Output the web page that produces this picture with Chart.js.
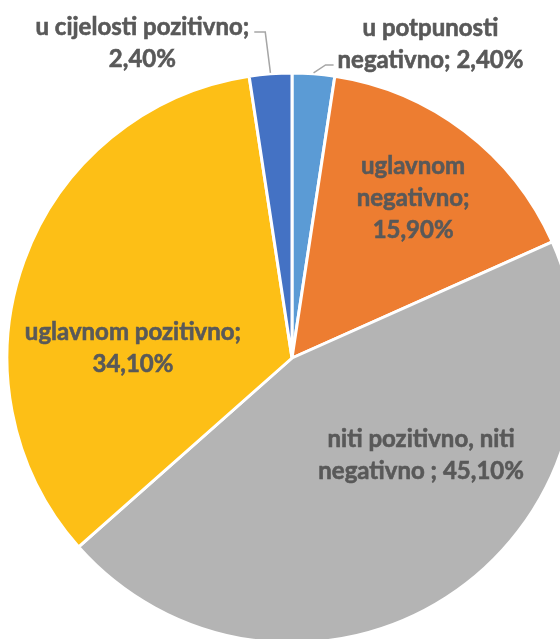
<!DOCTYPE html>
<html lang="hr">
<head>
    <meta charset="UTF-8">
    <title>Stav ispitanika</title>
    <script src="https://cdn.jsdelivr.net/npm/chart.js@4/dist/chart.umd.min.js"></script>
    <style>
        html, body {margin:0;padding:0;background:#fff;overflow:hidden;width:560px;height:639px;}
        #wrap {position:absolute;left:0;top:0;width:584px;height:716px;}
    </style>
</head>
<body>
<div id="wrap"><canvas id="pieChart"></canvas></div>
<script>
    const categories = ['u potpunosti negativno', 'uglavnom negativno', 'niti pozitivno, niti negativno ', 'uglavnom pozitivno', 'u cijelosti pozitivno'];
    const values = [2.4, 15.9, 45.1, 34.1, 2.4];
    const colors = ['#5B9BD5', '#ED7D31', '#B4B4B4', '#FDBF16', '#4472C4'];

    // label placement, in units of the radius from the centre, and wrap widths
    const labelPos = [[0.486, -1.102], [0.425, -0.561], [0.453, 0.34], [-0.558, -0.035], [-0.525, -1.105]];
    const wrapWidth = [200, 135, 225, 235, 240];
    const leader = [true, false, false, false, true];

    const fmt = (v) => v.toFixed(2).replace('.', ',') + '%';

    function wrap(ctx, text, max) {
        let words = text.split(/\s+/).filter(w => w.length);
        let lines = [], cur = '';
        words.forEach((w) => {
            let test = cur ? cur + ' ' + w : w;
            if (cur && ctx.measureText(test).width > max) {
                lines.push(cur);
                cur = w;
            } else {
                cur = test;
            }
        });
        if (cur) lines.push(cur);
        return lines;
    }

    const labelPlugin = {
        id: 'pieLabels',
        afterDatasetsDraw(chart) {
            const ctx = chart.ctx;
            const meta = chart.getDatasetMeta(0);
            const lh = 32;
            ctx.save();
            ctx.font = 'bold 24px Lato';
            ctx.fillStyle = '#595959';
            ctx.textAlign = 'center';
            ctx.textBaseline = 'middle';
            meta.data.forEach((arc, i) => {
                const r = arc.outerRadius;
                const cx = arc.x + labelPos[i][0] * r;
                const cy = arc.y + labelPos[i][1] * r;
                const lines = wrap(ctx, categories[i] + '; ' + fmt(values[i]), wrapWidth[i]);
                const y0 = cy - (lines.length - 1) * lh / 2;
                ctx.strokeStyle = '#595959';
                ctx.lineWidth = 0.6;
                lines.forEach((l, k) => {
                    ctx.fillText(l, cx, y0 + k * lh);
                    ctx.strokeText(l, cx, y0 + k * lh);
                });

                if (leader[i]) {
                    const mid = (arc.startAngle + arc.endAngle) / 2;
                    const ex = arc.x + Math.cos(mid) * (r + 1);
                    const ey = arc.y + Math.sin(mid) * (r + 1);
                    let sx, sy, bx;
                    if (ex < arc.x) {
                        sx = cx + ctx.measureText(lines[0]).width / 2 + 5;
                        sy = y0 + 5;
                        bx = sx + 11;
                    } else {
                        const k = lines.length - 1;
                        sx = cx - ctx.measureText(lines[k]).width / 2 - 4;
                        sy = y0 + k * lh + 5;
                        bx = sx - 8;
                    }
                    ctx.strokeStyle = '#A6A6A6';
                    ctx.lineWidth = 1.5;
                    ctx.beginPath();
                    ctx.moveTo(sx, sy);
                    ctx.lineTo(bx, sy);
                    ctx.lineTo(ex, ey);
                    ctx.stroke();
                }
            });
            ctx.restore();
        }
    };

    new Chart(document.getElementById('pieChart'), {
        type: 'pie',
        data: {
            labels: categories,
            datasets: [{
                data: values,
                backgroundColor: colors,
                borderColor: '#ffffff',
                borderWidth: 3,
                hoverOffset: 0
            }]
        },
        options: {
            responsive: true,
            maintainAspectRatio: false,
            animation: false,
            radius: 285,
            layout: {padding: 0},
            plugins: {
                legend: {display: false},
                tooltip: {enabled: false}
            }
        },
        plugins: [labelPlugin]
    });
</script>
</body>
</html>
